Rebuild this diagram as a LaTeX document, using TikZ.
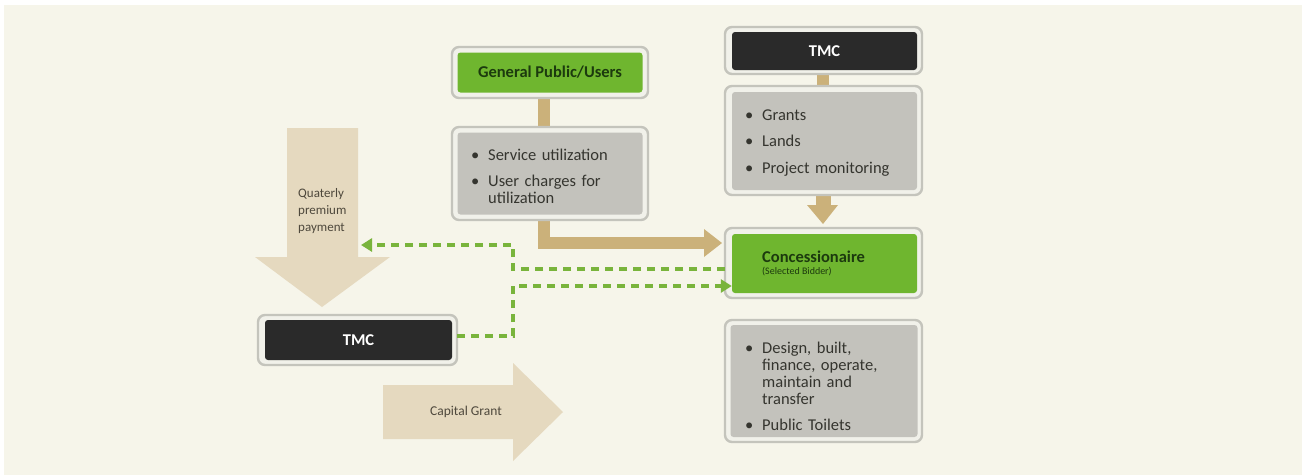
\documentclass[tikz,border=0pt]{standalone}
\usepackage{fontspec}
\setmainfont{Carlito}
\usetikzlibrary{arrows.meta}

\definecolor{cream}{HTML}{F6F5EA}
\definecolor{framegray}{HTML}{C4C4BC}
\definecolor{framefill}{HTML}{F1F1EA}
\definecolor{boxgreen}{HTML}{6FB62F}
\definecolor{boxdark}{HTML}{2A2A2A}
\definecolor{boxgray}{HTML}{C3C2BC}
\definecolor{textgreen}{HTML}{1C3A0E}
\definecolor{textdark}{HTML}{35352F}
\definecolor{tanlink}{HTML}{CBB17A}
\definecolor{tanbig}{HTML}{E5D9BF}
\definecolor{tantext}{HTML}{4E483C}
\definecolor{dashgreen}{HTML}{79B43C}

% one bullet entry with a hanging indent
\newcommand\bitem[1]{\par\hangindent=17pt\hangafter=1\noindent
  \makebox[17pt][l]{\textbullet}\rule{0pt}{12pt}#1\par}
\newcommand\bgap{\vspace{9.5pt}}

\begin{document}
\begin{tikzpicture}[x=1pt,y=-1pt,
  frame/.style={draw=framegray, line width=2.4pt, fill=framefill,
    rounded corners=7pt, inner sep=0pt, outer sep=0pt},
  greenbox/.style={fill=boxgreen, rounded corners=3pt, inner sep=0pt,
    text=textgreen, font=\bfseries\fontsize{16.5}{17}\selectfont},
  darkbox/.style={fill=boxdark, rounded corners=3pt, inner sep=0pt,
    text=white, font=\bfseries\fontsize{16.5}{17}\selectfont},
  graybox/.style={fill=boxgray, rounded corners=3pt, inner sep=0pt},
  bullets/.style={anchor=north west, inner sep=0pt, align=left,
    text=textdark, font=\fontsize{16.5}{17}\selectfont},
  tanline/.style={draw=tanlink, line width=12pt},
  bigarrow/.style={fill=tanbig},
  arrowtext/.style={inner sep=0pt, text=tantext},
  gdash/.style={draw=dashgreen, line width=3.4pt, dash pattern=on 8pt off 6pt},
  gtip/.style={-{Triangle[length=11pt,width=13pt]}},
]
% page and background
\useasboundingbox (0,0) rectangle (1302,475);
\fill[white] (0,0) rectangle (1302,475);
\fill[cream] (4,5) rectangle (1302,475);

% large shaded arrows
\fill[bigarrow] (287,128) -- (358,128) -- (358,257) -- (390,257) -- (322,307)
  -- (255,257) -- (287,257) -- cycle;
\node[arrowtext, anchor=north west, align=left, text width=60pt,
  font=\fontsize{13}{17}\selectfont] (qpp) at (298,187)
  {\rule{0pt}{10pt}Quaterly\\ premium\\ payment};
\fill[bigarrow] (383,385) -- (513,385) -- (513,363) -- (563,412) -- (513,461)
  -- (513,439) -- (383,439) -- cycle;
\node[arrowtext, font=\fontsize{13.5}{16}\selectfont] (cg) at (466,412) {Capital Grant};

% anchors for the connectors
\coordinate (gpuS) at (544,96);
\coordinate (b1N) at (544,130);
\coordinate (b1S) at (544,218);
\coordinate (tmcS) at (823,72);
\coordinate (b2N) at (823,88);
\coordinate (b2S) at (823,194);

% tan connectors (drawn beneath the boxes)
\draw[tanline] (gpuS) -- (b1N);
\draw[tanline] (b1S) -- (544,243) -- (706,243);
\fill[tanlink] (704,229) -- (722,243) -- (704,257) -- cycle;
\draw[tanline] (tmcS) -- (b2N);
\draw[draw=tanlink, line width=15pt] (b2S) -- (823,207);
\fill[tanlink] (807,205) -- (838,205) -- (823,224) -- cycle;

% General Public/Users
\node[frame, minimum width=196pt, minimum height=51pt] (gpuF) at (550,72.5) {};
\node[greenbox, minimum width=185pt, minimum height=40pt] (gpu) at (550,72.5)
  {General Public/Users};

% service box
\node[frame, minimum width=196pt, minimum height=93pt] (b1F) at (550,173.5) {};
\node[graybox, minimum width=185pt, minimum height=82pt] (b1) at (550,173.5) {};
\node[bullets, text width=165pt] (b1T) at (471,143)
  {\bitem{Service utilization}\bgap\bitem{User charges for\newline utilization}};

% TMC (top)
\node[frame, minimum width=197pt, minimum height=47pt] (tmcF) at (823.5,50.5) {};
\node[darkbox, minimum width=185pt, minimum height=38pt] (tmc) at (824.5,51) {TMC};

% grants box
\node[frame, minimum width=197pt, minimum height=109pt] (b2F) at (823.5,140.5) {};
\node[graybox, minimum width=185pt, minimum height=98pt] (b2) at (824.5,141) {};
\node[bullets, text width=165pt] (b2T) at (745,103)
  {\bitem{Grants}\bgap\bitem{Lands}\bgap\bitem{Project monitoring}};

% Concessionaire
\node[frame, minimum width=197pt, minimum height=70pt] (conF) at (823.5,263) {};
\node[greenbox, minimum width=185pt, minimum height=59pt] (con) at (824.5,263.5) {};
\node[anchor=base west, inner sep=0pt, text=textgreen,
  font=\bfseries\fontsize{16.5}{17}\selectfont] (conT) at (762,262) {Concessionaire};
\node[anchor=base west, inner sep=0pt, text=textgreen,
  font=\fontsize{10}{11}\selectfont] (conS) at (762,274) {(Selected Bidder)};

% responsibilities box
\node[frame, minimum width=197pt, minimum height=122pt] (b3F) at (823.5,381) {};
\node[graybox, minimum width=187pt, minimum height=112pt] (b3) at (824,381) {};
\node[bullets, text width=150pt] (b3T) at (745,336)
  {\bitem{Design, built,\newline finance, operate,\newline maintain and\newline transfer}\bgap
   \bitem{Public Toilets}};

% TMC (lower left)
\node[frame, minimum width=199pt, minimum height=50pt] (tmc2F) at (357.5,340) {};
\node[darkbox, minimum width=187pt, minimum height=40pt] (tmc2) at (358.5,340) {TMC};

% dashed payment flows
\coordinate (j1) at (513,269);
\coordinate (j2) at (513,245);
\coordinate (j3) at (513,336);
\coordinate (j4) at (513,286);
\coordinate (qin) at (361,245);
\draw[gdash, gtip] (conF.west |- j1) -- (j1) -- (j2) -- (qin);
\draw[gdash, gtip] (tmc2F.east |- j3) -- (j3) -- (j4) -- (con.west |- j4);
\end{tikzpicture}
\end{document}
